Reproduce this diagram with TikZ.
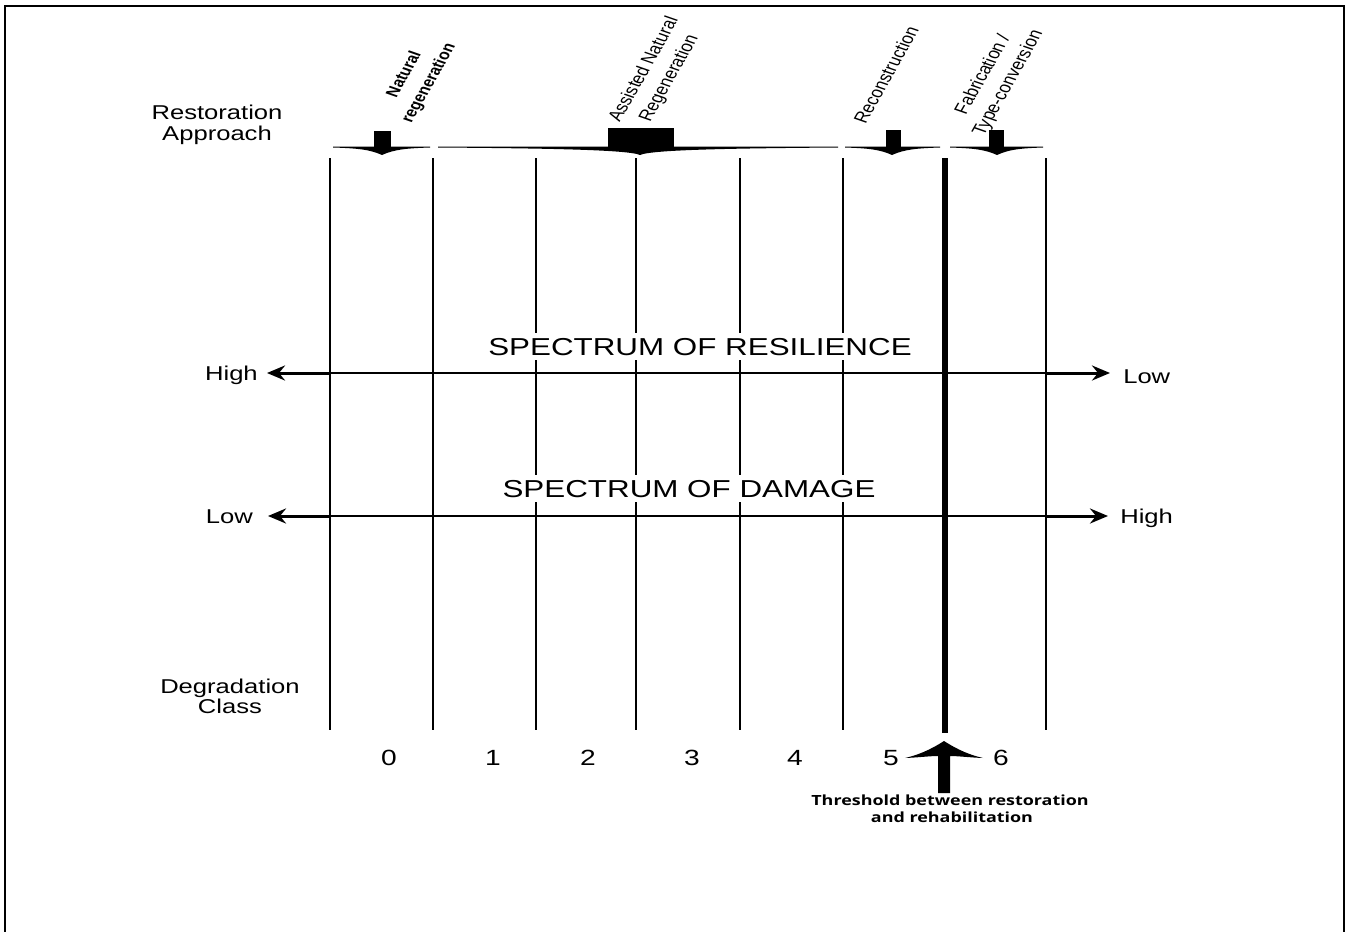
\documentclass[tikz,border=0pt]{standalone}
\usepackage{fontspec}
\setmainfont{Liberation Sans}
\newfontfamily\opensans{Open Sans}
\usetikzlibrary{arrows.meta}
\begin{document}
\begin{tikzpicture}[x=1pt,y=-1pt,
  sx/.style={xscale=1.28, inner sep=0pt},
  lab/.style={sx, anchor=base, font=\fontsize{20}{20}\selectfont},
  spec/.style={xscale=1.28, anchor=base, fill=white, inner xsep=2pt, inner ysep=5pt, font=\fontsize{24.5}{25}\selectfont},
  digit/.style={sx, anchor=base, font=\fontsize{22}{22}\selectfont},
  rot/.style={inner sep=0pt, xscale=1.28, rotate=66, align=center, font=\fontsize{15.5}{21.5}\selectfont},
  thr/.style={sx, anchor=base, font=\opensans\bfseries\fontsize{14}{16}\selectfont},
  vline/.style={line width=2.4pt},
  hline/.style={line width=2pt},
  harrow/.style={line width=3pt, -{Stealth[length=18pt,width=15pt,inset=6pt]}},
  mark/.style={fill=black}
]
\useasboundingbox (0,0) rectangle (1351,931);
\fill[white] (0,0) rectangle (1351,931);
\draw[line width=2pt] (5,945) -- (5,6) -- (1344,6) -- (1344,945);

% vertical class lines
\foreach \x/\n in {330/a,433/b,536/c,636/d,740/e,843/f,1046/h}{
  \coordinate (t\n) at (\x,158);
  \coordinate (b\n) at (\x,730);
  \draw[vline] (t\n) -- (b\n);
}
\coordinate (tg) at (945,158);
\coordinate (bg) at (945,733);
\draw[line width=5.5pt] (tg) -- (bg);

% horizontal spectrum lines
\coordinate (rl) at (330,373); \coordinate (rr) at (1046,373);
\coordinate (dl) at (330,516); \coordinate (dr) at (1046,516);
\coordinate (rlt) at (267,373); \coordinate (rrt) at (1110,373);
\coordinate (dlt) at (268,516); \coordinate (drt) at (1108,516);
\draw[hline] (rl) -- (rr);
\draw[hline] (dl) -- (dr);
\draw[harrow] (rl) -- (rlt);
\draw[harrow] (rr) -- (rrt);
\draw[harrow] (dl) -- (dlt);
\draw[harrow] (dr) -- (drt);

\node[spec] (specres) at (700,355) {SPECTRUM OF RESILIENCE};
\node[spec] (specdam) at (689,497) {SPECTRUM OF DAMAGE};

\node[lab, anchor=base east] (hiL) at (258,380) {High};
\node[lab, anchor=base west] (loR) at (1123,383) {Low};
\node[lab, anchor=base east] (loL) at (253,523) {Low};
\node[lab, anchor=base west] (hiR) at (1120,523) {High};

% left labels
\node[lab] (ra1) at (217,120) {Restoration};
\node[lab] (ra2) at (217,140) {Approach};
\node[lab] (dc1) at (230,693) {Degradation};
\node[lab] (dc2) at (230,713) {Class};

% degradation class numbers
\foreach \x/\d in {389/0,493/1,588/2,692/3,795/4,891/5,1001/6}{
  \node[digit] (n\d) at (\x,765) {\d};
}

% restoration approach markers
\newcommand\approachmark[6]{%
  \fill (#1,147.5) .. controls ({#3-0.5*(#3-#1)},148.3) and ({#3-12},149.5) .. (#3,155)
        .. controls ({#3+12},149.5) and ({#3+0.5*(#2-#3)},148.3) .. (#2,147.5)
        -- (#2,146.6) -- (#1,146.6) -- cycle;
  \fill (#4,#6) rectangle (#5,150);
}
\approachmark{333}{430}{382}{374}{391}{131}
\approachmark{438}{838}{640}{608}{674}{128}
\approachmark{845}{940}{892}{886}{901}{130}
\approachmark{950}{1043}{997}{989}{1004}{130}

\node[rot, font=\bfseries\fontsize{14}{21}\selectfont] (natreg) at (417,79) {Natural\\regeneration};
\node[rot] (anr) at (657,74) {Assisted Natural\\Regeneration};
\node[rot] (recon) at (886,75) {Reconstruction};
\node[rot] (fab) at (996,79) {Fabrication /\\Type-conversion};

% threshold arrow
\fill (944,741) .. controls (930,750) and (918,755) .. (905,758)
      .. controls (918,757.5) and (930,756) .. (938,756) -- (938,793) -- (950,793) -- (950,756)
      .. controls (958,756) and (970,757.5) .. (983,758)
      .. controls (970,755) and (958,750) .. (944,741) -- cycle;
\coordinate (thrtip) at (944,741);
\node[thr] (thr1) at (950,805) {Threshold between restoration};
\node[thr] (thr2) at (952,822) {and rehabilitation};
\end{tikzpicture}
\end{document}
